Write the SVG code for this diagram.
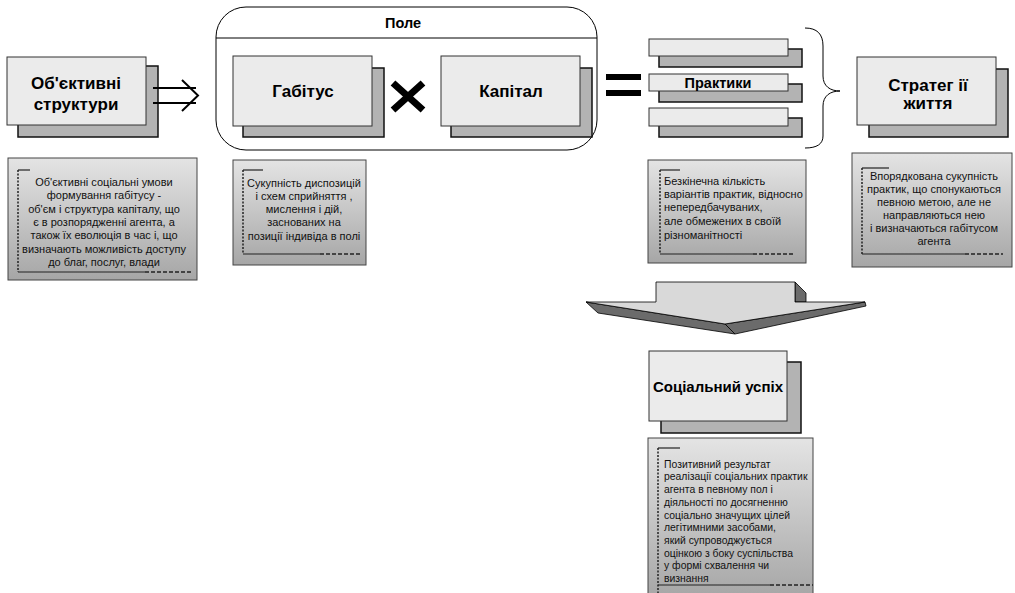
<svg xmlns="http://www.w3.org/2000/svg" width="1015" height="593" viewBox="0 0 1015 593">
<defs>
<linearGradient id="dg" x1="0" y1="0" x2="0" y2="1">
<stop offset="0" stop-color="#e4e4e4"/>
<stop offset="1" stop-color="#a6a6a6"/>
</linearGradient>
<style>
.front{fill:#ebebeb;stroke:#333;stroke-width:1}
.shadow{fill:#b3b3b3;stroke:#111;stroke-width:1.5}
.desc{fill:url(#dg);stroke:#444;stroke-width:1}
.br{fill:none;stroke:#222;stroke-width:1.2}
.brd{fill:none;stroke:#222;stroke-width:1.5;stroke-dasharray:2,1.5}
.brd2{fill:none;stroke:#222;stroke-width:1.5;stroke-dasharray:4,2}
.lbl{font-family:"Liberation Sans",Arial,sans-serif;font-weight:bold;font-size:17px;fill:#000;text-anchor:middle}
.dt{font-family:"Liberation Sans",Arial,sans-serif;font-size:11px;fill:#111}
.sm{font-size:10.4px}
.c{text-anchor:middle}
.ln{fill:none;stroke:#000;stroke-width:2}
</style>
</defs>
<rect width="1015" height="593" fill="#fff"/>

<g id="field">
<rect x="216" y="7" width="381" height="143" rx="30" ry="30" fill="#fff" stroke="#000" stroke-width="1"/>
<line x1="216" y1="38" x2="597" y2="38" stroke="#000" stroke-width="1"/>
<text class="lbl" x="403" y="28" style="font-size:14.5px">Поле</text>
</g>

<g id="objective">
<rect class="shadow" x="18" y="66" width="140" height="71"/>
<rect class="front" x="7" y="57" width="139" height="68"/>
<text class="lbl" x="76" y="89">Об'єктивні</text>
<text class="lbl" x="76" y="110">структури</text>
</g>

<g id="habitus">
<rect class="shadow" x="243" y="68" width="141" height="69"/>
<rect class="front" x="233" y="56" width="139" height="70"/>
<text class="lbl" x="303" y="97">Габітус</text>
</g>

<g id="capital">
<rect class="shadow" x="451" y="68" width="141" height="69"/>
<rect class="front" x="441" y="56" width="139" height="70"/>
<text class="lbl" x="511" y="97">Капітал</text>
</g>

<g id="practices">
<rect class="shadow" x="659" y="49" width="143" height="18"/>
<rect class="front" x="649" y="39" width="139" height="17"/>
<rect class="shadow" x="659" y="84" width="143" height="18"/>
<rect class="front" x="649" y="74" width="139" height="17"/>
<text class="lbl" x="718" y="88" style="font-size:14.5px">Практики</text>
<rect class="shadow" x="659" y="118" width="143" height="19"/>
<rect class="front" x="649" y="108" width="139" height="18"/>
</g>

<g id="strategies">
<rect class="shadow" x="869" y="69" width="139" height="68"/>
<rect class="front" x="857" y="57" width="139" height="68"/>
<text class="lbl" x="928" y="91">Стратег ії</text>
<text class="lbl" x="928" y="109">життя</text>
</g>

<g id="success">
<rect class="shadow" x="661" y="362" width="140" height="71"/>
<rect class="front" x="649" y="351" width="138" height="70"/>
<text class="lbl" x="718" y="392" style="font-size:15px">Соціальний успіх</text>
</g>

<g id="desc-objective">
<rect class="desc" x="8" y="158" width="189" height="122"/>
<path class="br" d="M18,170 H30"/>
<path class="brd" d="M18,170 V272"/>
<path class="br" d="M18,272 H145"/>
<path class="brd2" d="M145,272 H191"/>
<text class="dt c" x="104" y="186">Об'єктивні соціальні умови</text>
<text class="dt c" x="104" y="199">формування габітусу -</text>
<text class="dt c" x="104" y="213">об'єм і структура капіталу, що</text>
<text class="dt c" x="104" y="226">є в розпорядженні агента, а</text>
<text class="dt c" x="104" y="239">також їх еволюція в час і, що</text>
<text class="dt c" x="104" y="253">визначають можливість доступу</text>
<text class="dt c" x="104" y="266">до благ, послуг, влади</text>
</g>

<g id="desc-habitus">
<rect class="desc" x="233" y="160" width="133" height="105"/>
<path class="br" d="M243,170 H263"/>
<path class="brd" d="M243,170 V254"/>
<path class="br" d="M243,254 H320"/>
<path class="brd2" d="M320,254 H362"/>
<text class="dt c" x="304" y="187">Сукупність диспозицій</text>
<text class="dt c" x="304" y="200">і схем сприйняття ,</text>
<text class="dt c" x="304" y="213">мислення і дій,</text>
<text class="dt c" x="304" y="226">заснованих на</text>
<text class="dt c" x="304" y="240">позиції індивіда в полі</text>
</g>

<g id="desc-practices">
<rect class="desc" x="648" y="160" width="158" height="103"/>
<path class="br" d="M660,170 H680"/>
<path class="brd" d="M660,170 V254"/>
<path class="br" d="M660,254 H753"/>
<path class="brd2" d="M753,254 H795"/>
<text class="dt" x="664" y="185">Безкінечна кількість</text>
<text class="dt" x="664" y="198">варіантів практик, відносно</text>
<text class="dt" x="664" y="211">непередбачуваних,</text>
<text class="dt" x="664" y="225">але обмежених в своїй</text>
<text class="dt" x="664" y="239">різноманітності</text>
</g>

<g id="desc-strategies">
<rect class="desc" x="852" y="153" width="160" height="114"/>
<path class="br" d="M862,168 H889"/>
<path class="brd" d="M862,168 V254"/>
<path class="br" d="M862,254 H965"/>
<path class="brd2" d="M965,254 H1003"/>
<text class="dt c" x="934" y="180">Впорядкована сукупність</text>
<text class="dt c" x="934" y="193">практик, що спонукаються</text>
<text class="dt c" x="934" y="206">певною метою, але не</text>
<text class="dt c" x="934" y="219">направляються нею</text>
<text class="dt c" x="934" y="232">і визначаються габітусом</text>
<text class="dt c" x="934" y="245">агента</text>
</g>

<g id="desc-success">
<rect class="desc" x="648" y="438" width="165" height="160"/>
<path class="br" d="M658,448 H680"/>
<path class="brd" d="M658,448 V593"/>
<path class="br" d="M658,585 H770"/>
<path class="brd2" d="M770,585 H813"/>
<text class="dt sm" x="664" y="468">Позитивний результат</text>
<text class="dt sm" x="664" y="480">реалізації соціальних практик</text>
<text class="dt sm" x="664" y="493">агента в певному пол і</text>
<text class="dt sm" x="664" y="506">діяльності по досягненню</text>
<text class="dt sm" x="664" y="519">соціально значущих цілей</text>
<text class="dt sm" x="664" y="531">легітимними засобами,</text>
<text class="dt sm" x="664" y="544">який супроводжується</text>
<text class="dt sm" x="664" y="557">оцінкою з боку суспільства</text>
<text class="dt sm" x="664" y="569">у формі схвалення чи</text>
<text class="dt sm" x="664" y="582">визнання</text>
</g>

<g id="connectors">
<path class="ln" d="M153,88 H196 M153,103 H196"/>
<path class="ln" d="M182,80 L198,95.5 L182,111"/>
<path d="M393,83 L423,110 M393,110 L423,83" stroke="#000" stroke-width="7" fill="none"/>
<rect x="606" y="74" width="35" height="6" fill="#000"/>
<rect x="606" y="90" width="35" height="6" fill="#000"/>
<path d="M805,28 C817,28 823,34 823,46 L823,76 C823,86 830,91 840,91 C830,91 823,96 823,106 L823,136 C823,144 817,148 805,148" fill="none" stroke="#000" stroke-width="1"/>
<g id="big-arrow" stroke="#000" stroke-width="0.8" stroke-linejoin="round">
<polygon points="795,282 806,293 806,302 795,302" fill="#6b6b6b"/>
<polygon points="586,302 725,324 735,334 598,313" fill="#6b6b6b"/>
<polygon points="865,302 866,306 735,334 725,324" fill="#6b6b6b"/>
<polygon points="656,282 795,282 795,302 865,302 725,324 586,302 656,302" fill="#d9d9d9"/>
</g>
</g>
</svg>
